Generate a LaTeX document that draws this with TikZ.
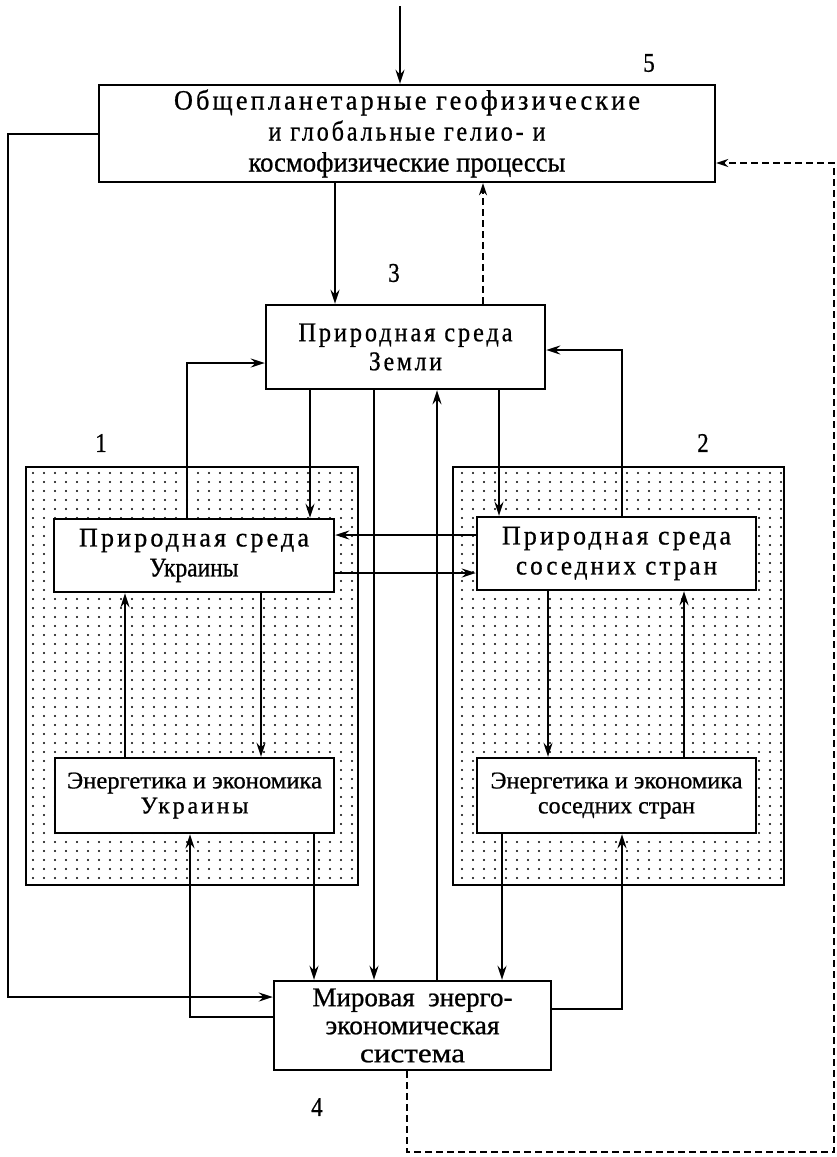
\documentclass[tikz,border=0pt]{standalone}
\usepackage{fontspec}
\setmainfont[FakeBold=0.8]{Liberation Serif}
\newfontfamily\spfont[LetterSpace=12,FakeBold=0.8]{Liberation Serif}
\usepackage{graphicx}
\usetikzlibrary{arrows.meta,patterns}
\pgfdeclarepatternformonly{sdots}{\pgfpoint{-1.5pt}{-1.5pt}}{\pgfpoint{1.5pt}{1.5pt}}{\pgfpoint{11pt}{9pt}}{\pgfpathcircle{\pgfpointorigin}{1.05pt}\pgfusepath{fill}}
\newcommand\fitw[2]{\resizebox{#1pt}{\height}{#2}}
\tikzset{
  box/.style={draw, line width=2.4pt, fill=white, inner sep=0pt, align=center},
  zone/.style={draw, line width=2.4pt, pattern=sdots, inner sep=0pt},
  arr/.style={line width=2pt, -{Stealth[length=14pt,width=9pt]}},
  darr/.style={line width=1.8pt, dash pattern=on 7pt off 4pt, -{Stealth[length=12pt,width=8pt]}},
  lbl/.style={font=\fontsize{27}{27}\selectfont, inner sep=0pt},
}
\begin{document}
\begin{tikzpicture}[x=1pt,y=-1pt]
\useasboundingbox[fill=white] (0,0) rectangle (837,1157);
% zones
\node[zone, minimum width=332pt, minimum height=418pt] (z1) at (192,676) {};
\node[zone, minimum width=331pt, minimum height=418pt] (z2) at (618.5,676) {};
% boxes
\node[box, minimum width=616pt, minimum height=97pt, font=\fontsize{28}{31}\selectfont] (b5) at (407,133.5)
  {\fitw{466}{\spfont Общепланетарные геофизические}\\\fitw{277}{\spfont и глобальные гелио- и}\\\fitw{317}{космофизические процессы}};
\node[box, minimum width=279pt, minimum height=84pt, font=\fontsize{27}{29}\selectfont] (b3) at (405.5,347)
  {\fitw{214}{\spfont Природная среда}\\\fitw{73}{\spfont Земли}};
\node[box, minimum width=280pt, minimum height=73pt, font=\fontsize{27}{30}\selectfont] (un) at (194,555.5)
  {\fitw{230}{\spfont Природная среда}\\\fitw{89}{Украины}};
\node[box, minimum width=279pt, minimum height=73pt, font=\fontsize{27}{30}\selectfont] (nn) at (616.5,553.5)
  {\fitw{229}{\spfont Природная среда}\\\fitw{201}{\spfont соседних стран}};
\node[box, minimum width=279pt, minimum height=75pt, font=\fontsize{24}{25}\selectfont] (ue) at (194.5,795.5)
  {\fitw{255}{Энергетика и экономика}\\\fitw{108}{\spfont Украины}};
\node[box, minimum width=279pt, minimum height=75pt, font=\fontsize{24}{25}\selectfont] (ne) at (616.5,795.5)
  {\fitw{252}{Энергетика и экономика}\\\fitw{157}{соседних стран}};
\node[box, minimum width=277pt, minimum height=89pt, font=\fontsize{27}{28}\selectfont] (mir) at (412.5,1025.5)
  {\fitw{200}{Мировая\ \ энерго-}\\\fitw{174}{экономическая}\\\fitw{105}{система}};
% labels
\node[lbl] (n5) at (649,63) {\scalebox{0.85}[1]{5}};
\node[lbl] (n3) at (394,273) {\scalebox{0.85}[1]{3}};
\node[lbl] (n1) at (101,443) {\scalebox{0.85}[1]{1}};
\node[lbl] (n2) at (703,443) {\scalebox{0.85}[1]{2}};
\node[lbl] (n4) at (317,1107) {\scalebox{0.85}[1]{4}};
% helper coordinates
\coordinate (top) at (400,6);
\coordinate (lft) at (8,997);
\coordinate (p363) at (187,363);
\coordinate (p350) at (622,350);
\coordinate (rb) at (834,1152);
\coordinate (h535) at (0,535);
\coordinate (h573) at (0,573);
\coordinate (h1017) at (0,1017);
\coordinate (h1009) at (0,1009);
\coordinate (h163) at (0,163);
\foreach \c in {125,190,261,310,314,335,374,407,437,483,499,502,548,622,684}
  {\coordinate (k\c) at (\c,0);}
% connectors
\draw[arr] (top) -- (top |- b5.north);
\draw[arr] (b5.west) -| (lft) -- (lft -| mir.west);
\draw[arr] (k335 |- b5.south) -- (k335 |- b3.north);
\draw[darr] (k483 |- b3.north) -- (k483 |- b5.south);
\draw[arr] (p363 |- un.north) -- (p363) -- (p363 -| b3.west);
\draw[arr] (p350 |- nn.north) -- (p350) -- (p350 -| b3.east);
\draw[arr] (k310 |- b3.south) -- (k310 |- un.north);
\draw[arr] (k374 |- b3.south) -- (k374 |- mir.north);
\draw[arr] (k437 |- mir.north) -- (k437 |- b3.south);
\draw[arr] (k499 |- b3.south) -- (k499 |- nn.north);
\draw[arr] (nn.west |- h535) -- (un.east |- h535);
\draw[arr] (un.east |- h573) -- (nn.west |- h573);
\draw[arr] (k125 |- ue.north) -- (k125 |- un.south);
\draw[arr] (k261 |- un.south) -- (k261 |- ue.north);
\draw[arr] (k548 |- nn.south) -- (k548 |- ne.north);
\draw[arr] (k684 |- ne.north) -- (k684 |- nn.south);
\draw[arr] (k314 |- ue.south) -- (k314 |- mir.north);
\draw[arr] (mir.west |- h1017) -| (k190 |- ue.south);
\draw[arr] (k502 |- ne.south) -- (k502 |- mir.north);
\draw[arr] (mir.east |- h1009) -| (k622 |- ne.south);
\draw[darr] (k407 |- mir.south) |- (rb) |- (b5.east |- h163);
\end{tikzpicture}
\end{document}
